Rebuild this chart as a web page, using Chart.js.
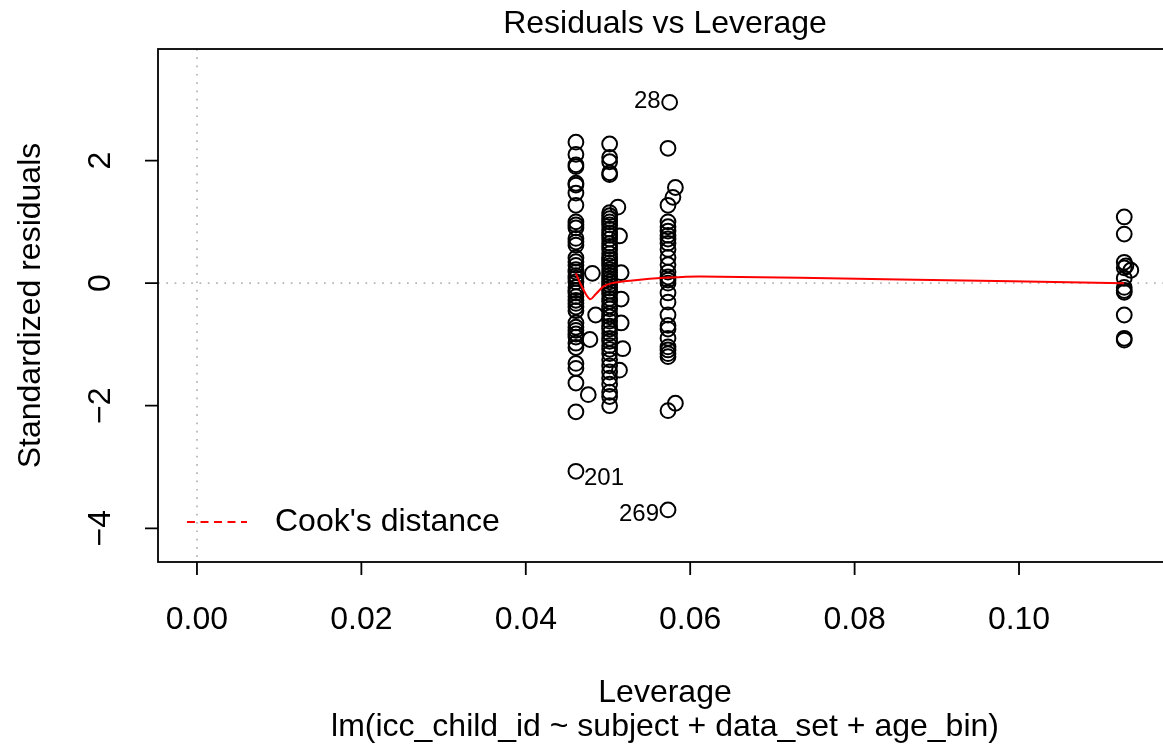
<!DOCTYPE html>
<html>
<head>
<meta charset="utf-8">
<title>Residuals vs Leverage</title>
<script src="https://cdn.jsdelivr.net/npm/chart.js@4.4.1/dist/chart.umd.min.js"></script>
<style>
  html, body { margin: 0; padding: 0; background: #ffffff; overflow: hidden; width: 1163px; height: 752px; }
  /* the plot frame runs a few pixels past the right edge of the page */
  #wrap { width: 1172px; height: 752px; position: relative; }
</style>
</head>
<body>
<div id="wrap"><canvas id="chart"></canvas></div>
<script>
// Leverage of the four design groups
const groupLeverage = [0.0461, 0.0502, 0.0573, 0.1128];

// Standardized residuals per leverage group
const residualsGroupA = [2.30, 2.10, 1.93, 1.90, 1.63, 1.60, 1.47, 1.27, 1.00, 0.95, 0.90, 0.73, 0.67,
  0.62, 0.41, 0.35, 0.29, 0.22, 0.18, 0.12, 0.08, 0.02, -0.07, -0.12, -0.16, -0.22, -0.28, -0.33,
  -0.39, -0.45, -0.65, -0.72, -0.77, -0.83, -0.88, -0.98, -1.05, -1.31, -1.39, -1.63, -2.10, -3.07];
const residualsGroupB = [2.27, 2.05, 1.98, 1.80, 1.77, 1.15, 1.10, 1.05, 1.00, 0.95, 0.88, 0.82, 0.78,
  0.72, 0.65, 0.60, 0.55, 0.48, 0.42, 0.38, 0.33, 0.28, 0.22, 0.17, 0.12, 0.07, 0.02, -0.03, -0.08,
  -0.13, -0.18, -0.25, -0.30, -0.37, -0.42, -0.50, -0.55, -0.62, -0.70, -0.75, -0.82, -0.90, -0.95,
  -1.02, -1.08, -1.15, -1.25, -1.35, -1.45, -1.55, -1.65, -1.78, -1.85, -2.00];
const residualsGroupC = [2.20, 1.27, 1.00, 0.92, 0.85, 0.78, 0.72, 0.65, 0.55, 0.42, 0.30, 0.18,
  0.10, 0.05, 0.00, -0.16, -0.31, -0.52, -0.69, -0.75, -0.90, -1.04, -1.09, -1.15, -1.20, -2.08, -3.70];
const residualsGroupD = [1.08, 0.80, 0.34, 0.25, 0.08, -0.07, -0.12, -0.15, -0.52, -0.90, -0.93];

// Observations whose leverage sits between the main groups
const looseLeverage = [0.0481, 0.0485, 0.0478, 0.0476, 0.0512, 0.0514, 0.0516, 0.0516, 0.0516, 0.0518,
  0.0514, 0.0582, 0.0579, 0.0582, 0.1136, 0.1130, 0.0575];
const looseResiduals = [0.16, -0.52, -0.92, -1.82, 1.24, 0.77, 0.17, -0.26, -0.65, -1.07,
  -1.42, 1.56, 1.40, -1.96, 0.21, 0.28, 2.95];

// Smoothed trend of the residuals (red curve)
const smoothLeverage = [0.0461, 0.0468, 0.0478, 0.0485, 0.0495, 0.0505, 0.0527, 0.0573, 0.0612, 0.0855, 0.1128];
const smoothResiduals = [0.16, -0.05, -0.26, -0.18, -0.05, 0.00, 0.04, 0.09, 0.11, 0.06, 0.00];

// Labelled extreme observations
const outlierIds = ['28', '201', '269'];
const outlierLeverage = [0.0575, 0.0461, 0.0573];
const outlierResiduals = [2.95, -3.07, -3.70];
const outlierSide = ['left', 'right', 'left'];

// Axis ticks
const xTickValues = [0, 0.02, 0.04, 0.06, 0.08, 0.10];
const xTickLabels = ['0.00', '0.02', '0.04', '0.06', '0.08', '0.10'];
const yTickValues = [-4, -2, 0, 2];
const yTickLabels = ['\u22124', '\u22122', '0', '2'];

const FONT = "'Liberation Sans', Arial, Helvetica, sans-serif";

// assemble scatter points from the arrays above
const points = [];
[residualsGroupA, residualsGroupB, residualsGroupC, residualsGroupD].forEach((arr, g) => {
  arr.forEach(r => points.push({ x: groupLeverage[g], y: r }));
});
looseLeverage.forEach((lv, i) => points.push({ x: lv, y: looseResiduals[i] }));

const smoothData = smoothLeverage.map((lv, i) => ({ x: lv, y: smoothResiduals[i] }));

const frame = {
  id: 'rFrame',
  beforeDatasetsDraw(chart) {
    const { ctx, chartArea: a, scales: { x, y } } = chart;
    ctx.save();
    ctx.strokeStyle = '#b4b4b4';
    ctx.lineWidth = 1.7;
    ctx.setLineDash([1.7, 6.6]);
    const y0 = y.getPixelForValue(0);
    const x0 = x.getPixelForValue(0);
    ctx.beginPath();
    ctx.moveTo(a.left, y0); ctx.lineTo(a.right, y0);
    ctx.moveTo(x0, a.top); ctx.lineTo(x0, a.bottom);
    ctx.stroke();
    ctx.restore();
  },
  afterDraw(chart) {
    const { ctx, chartArea: a, scales: { x, y } } = chart;
    ctx.save();
    ctx.strokeStyle = '#000';
    ctx.lineWidth = 1.8;
    ctx.setLineDash([]);
    ctx.strokeRect(a.left, a.top, a.right - a.left, a.bottom - a.top);

    // x axis ticks + labels
    ctx.fillStyle = '#000';
    ctx.font = '32px ' + FONT;
    ctx.textAlign = 'center';
    ctx.textBaseline = 'middle';
    ctx.beginPath();
    xTickValues.forEach(v => {
      const px = x.getPixelForValue(v);
      ctx.moveTo(px, a.bottom); ctx.lineTo(px, a.bottom + 13);
    });
    ctx.stroke();
    xTickValues.forEach((v, i) => {
      ctx.fillText(xTickLabels[i], x.getPixelForValue(v), 620);
    });

    // y axis ticks + rotated labels
    ctx.beginPath();
    yTickValues.forEach(v => {
      const py = y.getPixelForValue(v);
      ctx.moveTo(a.left, py); ctx.lineTo(a.left - 13, py);
    });
    ctx.stroke();
    yTickValues.forEach((v, i) => {
      ctx.save();
      ctx.translate(101, y.getPixelForValue(v));
      ctx.rotate(-Math.PI / 2);
      ctx.fillText(yTickLabels[i], 0, 0);
      ctx.restore();
    });

    // titles, centred on the plot region
    const cx = (a.left + a.right) / 2;
    ctx.fillText('Residuals vs Leverage', cx, 24);
    ctx.fillText('Leverage', cx, 693);
    ctx.fillText('lm(icc_child_id ~ subject + data_set + age_bin)', cx, 727);
    ctx.save();
    ctx.translate(31, (a.top + a.bottom) / 2);
    ctx.rotate(-Math.PI / 2);
    ctx.fillText('Standardized residuals', 0, 0);
    ctx.restore();

    // legend
    ctx.strokeStyle = '#ff0000';
    ctx.lineWidth = 1.8;
    ctx.setLineDash([8, 5.5]);
    ctx.beginPath();
    ctx.moveTo(187, 522); ctx.lineTo(247, 522);
    ctx.stroke();
    ctx.setLineDash([]);
    ctx.textAlign = 'left';
    ctx.fillText("Cook's distance", 275, 522);

    // outlier ids
    ctx.font = '24px ' + FONT;
    outlierIds.forEach((id, i) => {
      const px = x.getPixelForValue(outlierLeverage[i]);
      const py = y.getPixelForValue(outlierResiduals[i]);
      if (outlierSide[i] === 'left') {
        ctx.textAlign = 'right';
        ctx.fillText(id, px - 9, py - 1 + (i === 2 ? 5 : 0));
      } else {
        ctx.textAlign = 'left';
        ctx.fillText(id, px + 8, py + 7);
      }
    });
    ctx.restore();
  }
};

new Chart(document.getElementById('chart'), {
  type: 'scatter',
  data: {
    datasets: [
      {
        type: 'line',
        data: smoothData,
        borderColor: '#ff0000',
        borderWidth: 2,
        pointRadius: 0,
        fill: false,
        tension: 0.35,
        order: 0
      },
      {
        data: points,
        pointStyle: 'circle',
        pointRadius: 7.4,
        pointHoverRadius: 7.4,
        backgroundColor: 'rgba(0,0,0,0)',
        borderColor: '#000000',
        borderWidth: 2,
        order: 1
      }
    ]
  },
  options: {
    responsive: true,
    maintainAspectRatio: false,
    animation: false,
    events: [],
    layout: { autoPadding: false, padding: { left: 158, right: 0, top: 49, bottom: 190 } },
    plugins: { legend: { display: false }, tooltip: { enabled: false }, title: { display: false } },
    scales: {
      x: { type: 'linear', min: -0.00474, max: 0.11861, display: false },
      y: { type: 'linear', min: -4.55, max: 3.82, display: false }
    }
  },
  plugins: [frame]
});
</script>
</body>
</html>
